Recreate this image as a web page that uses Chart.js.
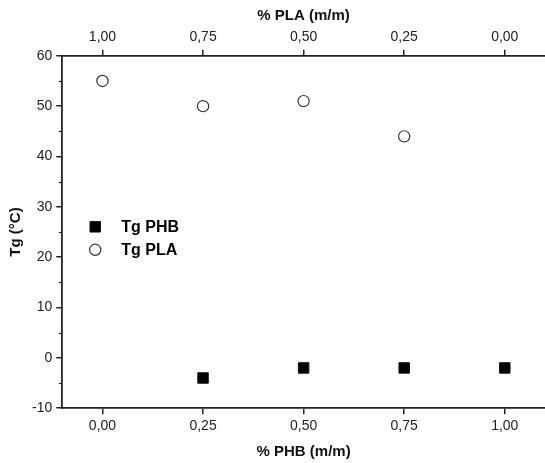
<!DOCTYPE html>
<html>
<head>
<meta charset="utf-8">
<script src="https://cdn.jsdelivr.net/npm/chart.js@4.4.1/dist/chart.umd.min.js"></script>
<style>
  html, body { margin: 0; padding: 0; background: #fff; }
  #wrap { width: 545px; height: 463px; position: relative; }
</style>
</head>
<body>
<div id="wrap"><canvas id="c" width="545" height="463"></canvas></div>
<script>
// ---- data ----
const phbLabel = 'Tg PHB';
const plaLabel = 'Tg PLA';
const phbX  = [0.25, 0.50, 0.75, 1.00];
const phbTg = [-4, -2, -2, -2];
const plaX  = [0.00, 0.25, 0.50, 0.75];
const plaTg = [55, 50, 51, 44];
const xTicks = [0, 0.25, 0.5, 0.75, 1];
const yTicks = [-10, 0, 10, 20, 30, 40, 50, 60];
const yMinor = [-5, 5, 15, 25, 35, 45, 55];
const xTitle = '% PHB (m/m)';
const x2Title = '% PLA (m/m)';
const yTitle = 'Tg (°C)';

const FONT = "'Liberation Sans', Arial, sans-serif";
const AXIS = '#222';
const fmt = v => v.toFixed(2).replace('.', ',');

const minorTicks = {
  id: 'minorTicks',
  afterDraw(chart) {
    const ys = chart.scales.y, ctx = chart.ctx;
    ctx.save();
    ctx.strokeStyle = AXIS; ctx.lineWidth = 1.2;
    yMinor.forEach(v => {
      const py = Math.round(ys.getPixelForValue(v)) + 0.5;
      ctx.beginPath(); ctx.moveTo(ys.right - 3.5, py); ctx.lineTo(ys.right, py); ctx.stroke();
    });
    ctx.restore();
  }
};

const innerLegend = {
  id: 'innerLegend',
  afterDraw(chart) {
    const ctx = chart.ctx, a = chart.chartArea;
    ctx.save();
    chart.data.datasets.forEach((ds, i) => {
      const cx = a.left + 33, cy = a.top + 171 + i * 23;
      ctx.fillStyle = ds.backgroundColor; ctx.strokeStyle = ds.borderColor; ctx.lineWidth = ds.borderWidth;
      Chart.helpers.drawPoint(ctx, {pointStyle: ds.pointStyle, radius: ds.pointRadius, rotation: 0, borderWidth: ds.borderWidth}, cx, cy);
      ctx.fillStyle = '#000';
      ctx.font = "bold 16px " + FONT;
      ctx.textBaseline = 'middle';
      ctx.fillText(ds.label, a.left + 59, cy + 1);
    });
    ctx.restore();
  }
};

new Chart(document.getElementById('c'), {
  type: 'scatter',
  data: {
    datasets: [
      { label: phbLabel, data: phbX.map((x, i) => ({x, y: phbTg[i]})),
        pointStyle: 'rect', pointRadius: 7.4, pointHoverRadius: 7.4,
        backgroundColor: '#000', borderColor: '#111', borderWidth: 1 },
      { label: plaLabel, data: plaX.map((x, i) => ({x, y: plaTg[i]})),
        pointStyle: 'circle', pointRadius: 5.6, pointHoverRadius: 5.6,
        backgroundColor: '#fff', borderColor: '#333', borderWidth: 1.2 }
    ]
  },
  options: {
    responsive: false, animation: false,
    layout: { autoPadding: false, padding: { left: 7, right: 0, top: 7, bottom: 2 } },
    plugins: { legend: { display: false }, tooltip: { enabled: false } },
    scales: {
      x: {
        type: 'linear', position: 'bottom', min: -0.1, max: 1.1,
        afterBuildTicks: s => { s.ticks = xTicks.map(v => ({value: v})); },
        grid: { drawOnChartArea: false, drawTicks: true, tickLength: 6, color: AXIS, lineWidth: 1.5 },
        border: { color: AXIS, width: 1.8 },
        ticks: { callback: v => fmt(v), color: '#222', font: { family: FONT, size: 14 }, padding: 4, maxRotation: 0 },
        title: { display: true, text: xTitle, color: '#111', font: { family: FONT, size: 15, weight: 'bold' }, padding: { top: 4, bottom: 0 } }
      },
      x2: {
        type: 'linear', position: 'top', min: -0.1, max: 1.1, reverse: true,
        afterBuildTicks: s => { s.ticks = xTicks.map(v => ({value: v})); },
        grid: { drawOnChartArea: false, drawTicks: true, tickLength: 6, color: AXIS, lineWidth: 1.5 },
        border: { color: AXIS, width: 1.8 },
        ticks: { callback: v => fmt(v), color: '#222', font: { family: FONT, size: 14 }, padding: 4, maxRotation: 0 },
        title: { display: true, text: x2Title, color: '#111', font: { family: FONT, size: 15, weight: 'bold' }, padding: { top: 0, bottom: 0 } }
      },
      y: {
        type: 'linear', position: 'left', min: -10, max: 60,
        afterBuildTicks: s => { s.ticks = yTicks.map(v => ({value: v})); },
        grid: { drawOnChartArea: false, drawTicks: true, tickLength: 6, color: AXIS, lineWidth: 1.5 },
        border: { color: AXIS, width: 1.8 },
        ticks: { color: '#222', font: { family: FONT, size: 14 }, padding: 4 },
        title: { display: true, text: yTitle, color: '#111', font: { family: FONT, size: 15, weight: 'bold' }, padding: { top: 0, bottom: 3 } }
      }
    }
  },
  plugins: [minorTicks, innerLegend]
});
</script>
</body>
</html>
